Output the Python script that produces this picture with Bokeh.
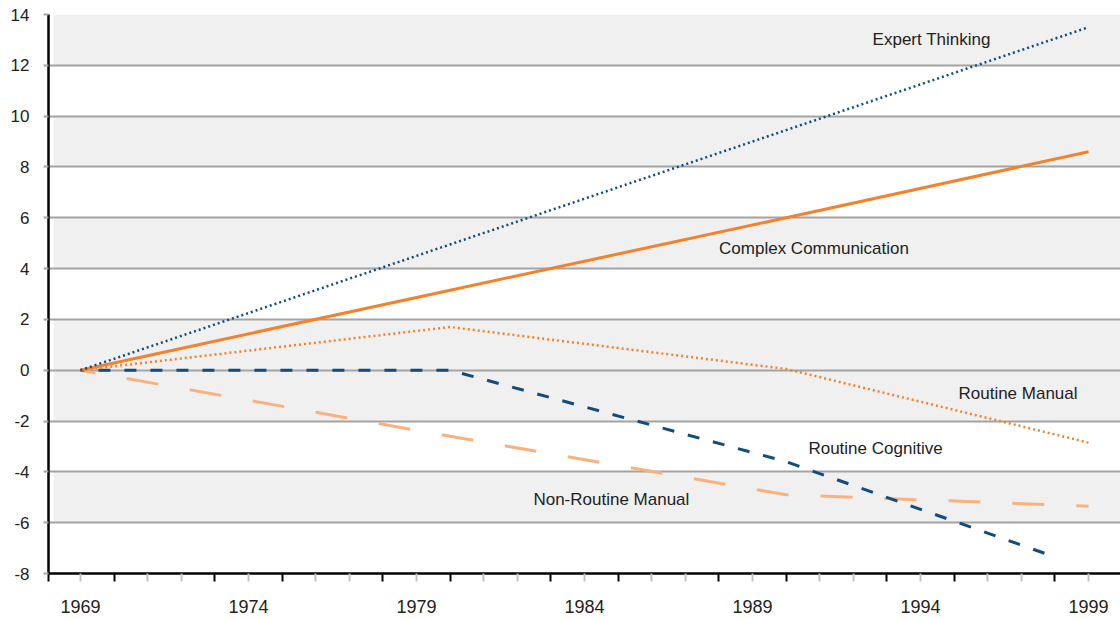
from bokeh.plotting import figure
from bokeh.models import Range1d, FixedTicker, LinearAxis, Grid, BoxAnnotation, Label
from bokeh.embed import file_html
from bokeh.resources import INLINE

# Index of change in task input, 1969 = 0
years = [1969, 1980, 1990, 1999]
expert_thinking = [0.0, 4.95, 9.45, 13.5]
complex_communication = [0.0, 3.15, 6.0, 8.6]
routine_manual = [0.0, 1.7, 0.05, -2.85]
non_routine_manual = [0.0, -2.6, -4.9, -5.35]
years_cognitive = [1969, 1980, 1990, 1998]
routine_cognitive = [0.0, 0.0, -3.6, -7.35]

series_names = ["Expert Thinking", "Complex Communication", "Routine Manual",
                "Routine Cognitive", "Non-Routine Manual"]

y_ticks = [-8, -6, -4, -2, 0, 2, 4, 6, 8, 10, 12, 14]
x_label_years = [1969, 1974, 1979, 1984, 1989, 1994, 1999]
x_black_ticks = [1970, 1973, 1975, 1978, 1980, 1983, 1985, 1988, 1990, 1993, 1995, 1998]
x_grey_ticks = [1969, 1971, 1972, 1974, 1976, 1977, 1979, 1981, 1982, 1984, 1986,
                1987, 1989, 1991, 1992, 1994, 1996, 1997, 1999]
shaded_bands = [(12, 14), (8, 10), (4, 6), (-2, 2), (-6, -4)]

# styling
X_START, X_END = 1968.05, 1999.95
FONT = "Liberation Sans"
FONT_SIZE = "17px"
NAVY = "#0f4c81"
ORANGE = "#f5822a"
LIGHT_ORANGE = "#fbb17c"
GRID = "#a3a3a3"
BAND = "#f0f0f0"
TXT = "#222222"

p = figure(width=1120, height=619, output_backend="svg", toolbar_location=None,
           x_range=Range1d(X_START, X_END), y_range=Range1d(-8, 14),
           x_axis_location=None, y_axis_location=None)
for g in p.grid:
    g.visible = False
p.min_border_left = 48
p.min_border_right = 0
p.min_border_top = 14
p.min_border_bottom = 46
p.outline_line_color = None
p.background_fill_color = "white"
p.border_fill_color = "white"

for lo, hi in shaded_bands:
    p.add_layout(BoxAnnotation(left=1968.2, bottom=lo, top=hi, fill_color=BAND,
                               fill_alpha=1, line_color=None, level="image"))

yaxis = LinearAxis(ticker=FixedTicker(ticks=y_ticks),
                   axis_line_color="black", axis_line_width=2.5,
                   major_tick_line_color=GRID, major_tick_line_width=2.2,
                   major_tick_in=0, major_tick_out=5,
                   minor_tick_line_color=None,
                   major_label_standoff=14,
                   major_label_overrides={t: str(t) for t in y_ticks},
                   major_label_text_font=FONT, major_label_text_font_size=FONT_SIZE,
                   major_label_text_color=TXT)
p.add_layout(yaxis, "left")
p.add_layout(Grid(dimension=1, ticker=yaxis.ticker, grid_line_color=GRID,
                  grid_line_width=2.2))

tick_axis = LinearAxis(ticker=FixedTicker(ticks=[X_START] + x_black_ticks,
                                          minor_ticks=x_grey_ticks),
                       axis_line_color="black", axis_line_width=2.5,
                       major_tick_line_color="black", major_tick_line_width=2,
                       major_tick_in=0, major_tick_out=8,
                       minor_tick_line_color="#c4c4c4", minor_tick_line_width=2,
                       minor_tick_in=0, minor_tick_out=8,
                       major_label_text_font_size="1px", major_label_text_alpha=0,
                       major_label_standoff=0)
p.add_layout(tick_axis, "below")

label_axis = LinearAxis(ticker=FixedTicker(ticks=x_label_years),
                        axis_line_color=None, major_tick_line_color=None,
                        minor_tick_line_color=None, major_tick_out=0, major_tick_in=0,
                        major_label_standoff=18,
                        major_label_text_font=FONT, major_label_text_font_size="18px",
                        major_label_text_color=TXT)
p.add_layout(label_axis, "below")

p.line(years, non_routine_manual, line_color=LIGHT_ORANGE, line_width=3,
       line_dash="32 32", line_dash_offset=17)
p.line(years_cognitive, routine_cognitive, line_color=NAVY, line_width=3,
       line_dash="12 14", line_dash_offset=8)
p.line(years, routine_manual, line_color=ORANGE, line_width=2.5, line_dash="2 3")
p.line(years, complex_communication, line_color=ORANGE, line_width=3)
p.line(years, expert_thinking, line_color=NAVY, line_width=2.5, line_dash="2 3")

label_pos = [(1994.33, 13.0), (1990.83, 4.78), (1996.9, -0.92), (1992.66, -3.07),
             (1984.8, -5.07)]
for name, (lx, ly) in zip(series_names, label_pos):
    p.add_layout(Label(x=lx, y=ly, text=name, text_align="center",
                       text_baseline="middle", text_font=FONT,
                       text_font_size=FONT_SIZE, text_color=TXT))

open("out.html", "w").write(file_html(p, INLINE))
